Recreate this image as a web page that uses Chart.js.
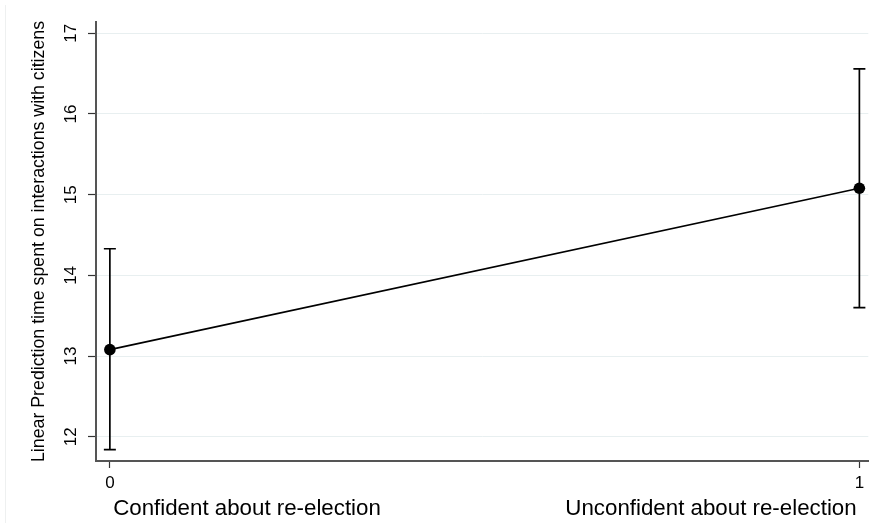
<!DOCTYPE html>
<html>
<head>
<meta charset="utf-8">
<script src="https://cdn.jsdelivr.net/npm/chart.js@4/dist/chart.umd.min.js"></script>
<style>
  html, body { margin: 0; padding: 0; background: #ffffff; }
  #c { display: block; }
</style>
</head>
<body>
<canvas id="c" width="876" height="523"></canvas>
<script>
// ---- data ----
const xValues = [0, 1];
const margins = [13.08, 15.08];
const ciLow   = [11.84, 13.60];
const ciHigh  = [14.33, 16.56];
const xTickValues = [0, 1];
const yTickValues = [12, 13, 14, 15, 16, 17];
const groupLabels = ['Confident about re-election', 'Unconfident about re-election'];
const yTitle = 'Linear Prediction time spent on interactions with citizens';

const FONT = '"Liberation Sans", Arial, Helvetica, sans-serif';

const mainData = xValues.map((x, i) => ({ x: x, y: margins[i] }));
const ciDatasets = xValues.map((x, i) => ({
  data: [{ x: x, y: ciLow[i] }, { x: x, y: ciHigh[i] }],
  showLine: true,
  borderColor: '#000000',
  borderWidth: 1.7,
  pointStyle: 'line',
  pointRadius: 6,
  pointBorderWidth: 1.7,
  pointBorderColor: '#000000',
  pointHoverRadius: 6
}));

const groupLabelPlugin = {
  id: 'groupLabels',
  beforeDraw(chart) {
    const ctx = chart.ctx;
    ctx.save();
    ctx.strokeStyle = '#eef0f0';
    ctx.lineWidth = 1;
    ctx.beginPath();
    ctx.moveTo(5.5, 5);
    ctx.lineTo(5.5, 523);
    ctx.stroke();
    ctx.restore();
  },
  afterDraw(chart, args, opts) {
    const ctx = chart.ctx;
    ctx.save();
    ctx.font = opts.fontSize + 'px ' + FONT;
    ctx.fillStyle = '#000000';
    ctx.textAlign = 'center';
    ctx.textBaseline = 'alphabetic';
    opts.labels.forEach((t, i) => {
      ctx.fillText(t, opts.positions[i], opts.baseline);
    });
    ctx.restore();
  }
};

new Chart(document.getElementById('c'), {
  type: 'scatter',
  data: {
    datasets: [
      {
        data: mainData,
        showLine: true,
        borderColor: '#000000',
        borderWidth: 1.6,
        pointRadius: 5.8,
        pointBackgroundColor: '#000000',
        pointBorderColor: '#000000',
        pointBorderWidth: 0,
        pointHoverRadius: 5.8
      },
      ...ciDatasets
    ]
  },
  options: {
    responsive: false,
    devicePixelRatio: 1,
    animation: false,
    layout: { padding: { left: 0, top: 22, right: 0, bottom: 0 } },
    plugins: {
      legend: { display: false },
      tooltip: { enabled: false },
      groupLabels: {
        labels: groupLabels,
        positions: [247, 711],
        baseline: 515,
        fontSize: 22.3
      }
    },
    scales: {
      x: {
        type: 'linear',
        min: -0.0185,
        max: 1.0119,
        afterBuildTicks: s => { s.ticks = xTickValues.map(v => ({ value: v })); },
        afterFit: s => { s.height = 62; },
        border: { display: true, color: '#555555', width: 2 },
        grid: { drawOnChartArea: false, drawTicks: true, tickLength: 7, tickColor: '#333333', tickWidth: 1.2 },
        ticks: {
          autoSkip: false, maxRotation: 0, minRotation: 0, padding: 5,
          color: '#000000', font: { family: FONT, size: 17 }
        }
      },
      y: {
        type: 'linear',
        min: 11.70,
        max: 17.14,
        afterBuildTicks: s => { s.ticks = yTickValues.map(v => ({ value: v })); },
        afterFit: s => { s.width = 96; },
        border: { display: true, color: '#555555', width: 2 },
        grid: { drawOnChartArea: true, color: '#e8eff0', lineWidth: 1, drawTicks: true, tickLength: 8, tickColor: '#333333', tickWidth: 1.2 },
        ticks: {
          autoSkip: false, minRotation: 90, maxRotation: 90, crossAlign: 'center', padding: 7,
          color: '#000000', font: { family: FONT, size: 17 }
        },
        title: {
          display: true, text: yTitle, color: '#000000',
          font: { family: FONT, size: 17.75 },
          padding: { top: 28, bottom: 0 }
        }
      }
    }
  },
  plugins: [groupLabelPlugin]
});
</script>
</body>
</html>
